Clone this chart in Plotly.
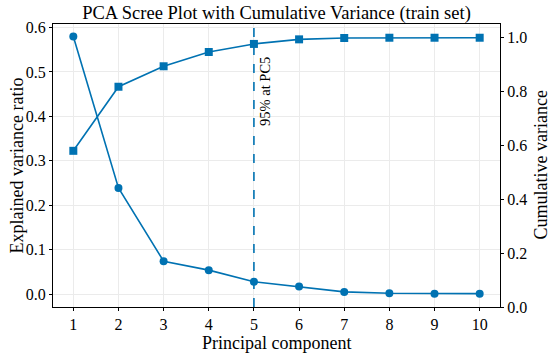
import plotly.graph_objects as go

components = [1, 2, 3, 4, 5, 6, 7, 8, 9, 10]
explained = [0.580, 0.239, 0.074, 0.054, 0.028, 0.017, 0.005, 0.002, 0.001, 0.001]
cumulative = [0.580, 0.818, 0.894, 0.947, 0.977, 0.994, 0.999, 1.000, 1.000, 1.000]
threshold_pc = 5
threshold_label = "95% at PC5"

color = "#0072B2"
font_family = "Liberation Serif, Times New Roman, serif"

W, H = 550, 357
L, R, T, B = 53, 50, 24, 50
pw, ph = W - L - R, H - T - B

def px_x(px):
    return (px - L) / pw

def px_y(py):
    return (H - B - py) / ph

fig = go.Figure()
fig.add_trace(go.Scatter(
    x=components, y=explained, mode="lines+markers",
    line=dict(color=color, width=1.6),
    marker=dict(symbol="circle", size=8, color=color),
    yaxis="y", showlegend=False))
fig.add_trace(go.Scatter(
    x=components, y=cumulative, mode="lines+markers",
    line=dict(color=color, width=1.6),
    marker=dict(symbol="square", size=8, color=color),
    yaxis="y2", showlegend=False))

fig.add_shape(type="line", xref="x", yref="paper", x0=threshold_pc, x1=threshold_pc,
              y0=0, y1=1, line=dict(color=color, width=1.6, dash="dash"))
fig.add_annotation(x=threshold_pc, xref="x", y=px_y(91), yref="paper", text=threshold_label,
                   textangle=-90, showarrow=False, xanchor="left", yanchor="middle",
                   xshift=1, font=dict(size=14.5, color="black", family=font_family))

# axis titles
title_font = dict(size=18, color="black", family=font_family)
fig.add_annotation(x=0.5, xref="paper", y=px_y(343), yref="paper", text="Principal component",
                   showarrow=False, xanchor="center", yanchor="middle", font=title_font)
fig.add_annotation(x=px_x(16), xref="paper", y=0.5, yref="paper", text="Explained variance ratio",
                   textangle=-90, showarrow=False, xanchor="center", yanchor="middle", font=title_font)
fig.add_annotation(x=px_x(540), xref="paper", y=0.5, yref="paper", text="Cumulative variance",
                   textangle=-90, showarrow=False, xanchor="center", yanchor="middle", font=title_font)

axis_common = dict(showline=True, linecolor="black", linewidth=1.2, ticks="outside",
                   ticklen=3, tickcolor="black", gridcolor="#ebebeb", gridwidth=1,
                   zeroline=False, tickfont=dict(size=16, color="black", family=font_family))

fig.update_layout(
    width=W, height=H,
    margin=dict(l=L, r=R, t=T, b=B),
    plot_bgcolor="white", paper_bgcolor="white",
    font=dict(family=font_family, color="black", size=16),
    title=dict(text="PCA Scree Plot with Cumulative Variance (train set)",
               x=0.5, xanchor="center", xref="paper", y=1 - 12.5 / H, yref="container",
               yanchor="middle", pad=dict(t=0, b=0),
               font=dict(size=18.5, color="black", family=font_family)),
    xaxis=dict(range=[0.55, 10.45], tickvals=components, mirror=True, **axis_common),
    yaxis=dict(range=[-0.029, 0.608], tickvals=[0.0, 0.1, 0.2, 0.3, 0.4, 0.5, 0.6],
               tickformat=".1f", **axis_common),
    yaxis2=dict(range=[0, 1.051], overlaying="y", side="right",
                tickvals=[0.0, 0.2, 0.4, 0.6, 0.8, 1.0], tickformat=".1f", showgrid=False,
                **{k: v for k, v in axis_common.items() if k not in ("gridcolor", "gridwidth")}),
)

fig.write_html("out.html", config={"displayModeBar": False},
               post_script="document.body.style.margin='0';document.body.style.overflow='hidden';")
